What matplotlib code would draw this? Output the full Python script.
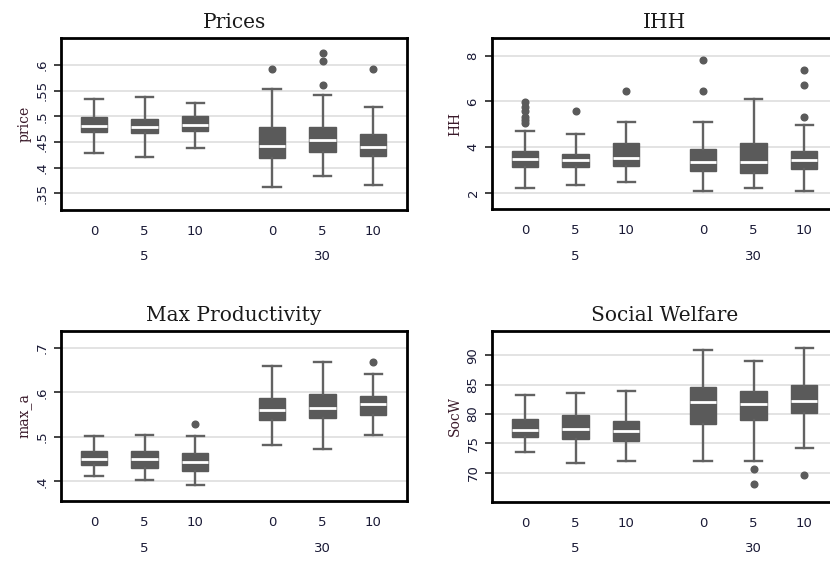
import matplotlib
matplotlib.use("Agg")
import matplotlib.pyplot as plt
from matplotlib.transforms import blended_transform_factory

# Inner categories (0, 5, 10) nested within outer groups (5, 30)
inner_labels = ["0", "5", "10", "0", "5", "10"]
outer_labels = ["5", "30"]

# Prices
price_med = [0.482, 0.479, 0.484, 0.442, 0.4535, 0.440]
price_q1 = [0.470, 0.4666, 0.471, 0.419, 0.4295, 0.4229]
price_q3 = [0.498, 0.4945, 0.501, 0.4795, 0.4795, 0.4647]
price_lo = [0.4275, 0.421, 0.4385, 0.361, 0.3838, 0.365]
price_hi = [0.5336, 0.537, 0.526, 0.5525, 0.5414, 0.5186]
price_out = [[], [], [], [0.5915], [0.623, 0.6085, 0.562], [0.5915]]

# IHH
hh_med = [3.475, 3.43, 3.52, 3.33, 3.33, 3.43]
hh_q1 = [3.11, 3.11, 3.18, 2.95, 2.85, 3.04]
hh_q3 = [3.84, 3.72, 4.16, 3.91, 4.16, 3.84]
hh_lo = [2.23, 2.32, 2.48, 2.07, 2.23, 2.07]
hh_hi = [4.715, 4.555, 5.11, 5.11, 6.12, 4.95]
hh_out = [[5.985, 5.74, 5.59, 5.33, 5.18, 5.07], [5.58], [6.47],
          [7.81, 6.48], [], [7.40, 6.72, 5.33]]

# Max Productivity
maxa_med = [0.4495, 0.451, 0.4427, 0.5613, 0.5658, 0.5748]
maxa_q1 = [0.436, 0.431, 0.4225, 0.5373, 0.5425, 0.550]
maxa_q3 = [0.468, 0.468, 0.4637, 0.5875, 0.5958, 0.5913]
maxa_lo = [0.412, 0.4037, 0.391, 0.481, 0.472, 0.505]
maxa_hi = [0.5013, 0.505, 0.501, 0.6588, 0.6678, 0.6408]
maxa_out = [[], [], [0.528], [], [], [0.6685]]

# Social Welfare
sw_med = [77.2, 77.5, 77.1, 82.05, 81.76, 82.3]
sw_q1 = [76.0, 75.74, 75.34, 78.3, 78.92, 80.2]
sw_q3 = [79.15, 79.8, 78.8, 84.6, 83.98, 84.9]
sw_lo = [73.6, 71.65, 72.05, 72.05, 72.05, 74.26]
sw_hi = [83.3, 83.6, 83.9, 90.97, 89.03, 91.3]
sw_out = [[], [], [], [], [70.57, 68.0], [69.66]]

positions = [1, 2, 3, 4.52, 5.52, 6.52]
outer_pos = [2, 5.52]

BOX = "#5a5a5a"
TXT = "#1a1a36"

panels = [
    dict(title="Prices", ylabel="price",
         stats=(price_med, price_q1, price_q3, price_lo, price_hi, price_out),
         yticks=[0.35, 0.4, 0.45, 0.5, 0.55, 0.6],
         yticklabels=[".35", ".4", ".45", ".5", ".55", ".6"],
         ylim=(0.317, 0.653), rect=[61, 38, 346, 172]),
    dict(title="IHH", ylabel="HH",
         stats=(hh_med, hh_q1, hh_q3, hh_lo, hh_hi, hh_out),
         yticks=[2, 4, 6, 8], yticklabels=["2", "4", "6", "8"],
         ylim=(1.29, 8.78), rect=[492, 38, 346, 171]),
    dict(title="Max Productivity", ylabel="max_a",
         stats=(maxa_med, maxa_q1, maxa_q3, maxa_lo, maxa_hi, maxa_out),
         yticks=[0.4, 0.5, 0.6, 0.7], yticklabels=[".4", ".5", ".6", ".7"],
         ylim=(0.3557, 0.738), rect=[61, 331, 346, 170]),
    dict(title="Social Welfare", ylabel="SocW",
         stats=(sw_med, sw_q1, sw_q3, sw_lo, sw_hi, sw_out),
         yticks=[70, 75, 80, 85, 90], yticklabels=["70", "75", "80", "85", "90"],
         ylim=(65.0, 94.15), rect=[492, 331, 346, 171]),
]

W, H = 830, 563
fig = plt.figure(figsize=(W / 100, H / 100), dpi=100)
fig.patch.set_facecolor("white")

for p in panels:
    x0, y0, w, h = p["rect"]
    ax = fig.add_axes([x0 / W, 1 - (y0 + h) / H, w / W, h / H])
    med, q1, q3, lo, hi, out = p["stats"]
    bstats = []
    for i in range(len(med)):
        bstats.append(dict(med=med[i], q1=q1[i], q3=q3[i],
                           whislo=lo[i], whishi=hi[i], fliers=out[i]))
    ax.bxp(bstats, positions=positions, widths=0.52, capwidths=0.34,
           patch_artist=True, showfliers=True,
           boxprops=dict(facecolor=BOX, edgecolor=BOX, linewidth=1.0),
           medianprops=dict(color="white", linewidth=2.0),
           whiskerprops=dict(color="#626262", linewidth=1.7),
           capprops=dict(color="#626262", linewidth=1.7),
           flierprops=dict(marker="o", markerfacecolor=BOX,
                           markeredgecolor=BOX, markersize=4.8))
    ax.set_xlim(0.347, 7.19)
    ax.set_ylim(*p["ylim"])
    ax.set_yticks(p["yticks"])
    ax.set_yticklabels(p["yticklabels"], rotation=90, va="center",
                       family="DejaVu Sans", fontsize=9.5, color=TXT)
    ax.yaxis.grid(True, color="#e3e3e3", linewidth=1.4)
    ax.set_axisbelow(True)
    ax.set_xticks(positions)
    ax.set_xticklabels(inner_labels, family="DejaVu Sans", fontsize=9.5,
                       color=TXT)
    ax.tick_params(axis="x", length=0, pad=10.5)
    ax.tick_params(axis="y", length=5, width=1.2, pad=4, color="#222222")
    trans = blended_transform_factory(ax.transData, ax.transAxes)
    for xp, lab in zip(outer_pos, outer_labels):
        ax.text(xp, -47 / h, lab, transform=trans, ha="center", va="center",
                family="DejaVu Sans", fontsize=9.5, color=TXT)
    for s in ax.spines.values():
        s.set_color("black")
        s.set_linewidth(2.0)
    ax.set_title(p["title"], family="DejaVu Serif", fontsize=14.5,
                 color="#1a1a1a", pad=7)
    ax.set_ylabel(p["ylabel"], family="DejaVu Serif", fontsize=10,
                  color="#3a1a2a", labelpad=3)

fig.savefig("out.png", dpi=100, facecolor="white")
